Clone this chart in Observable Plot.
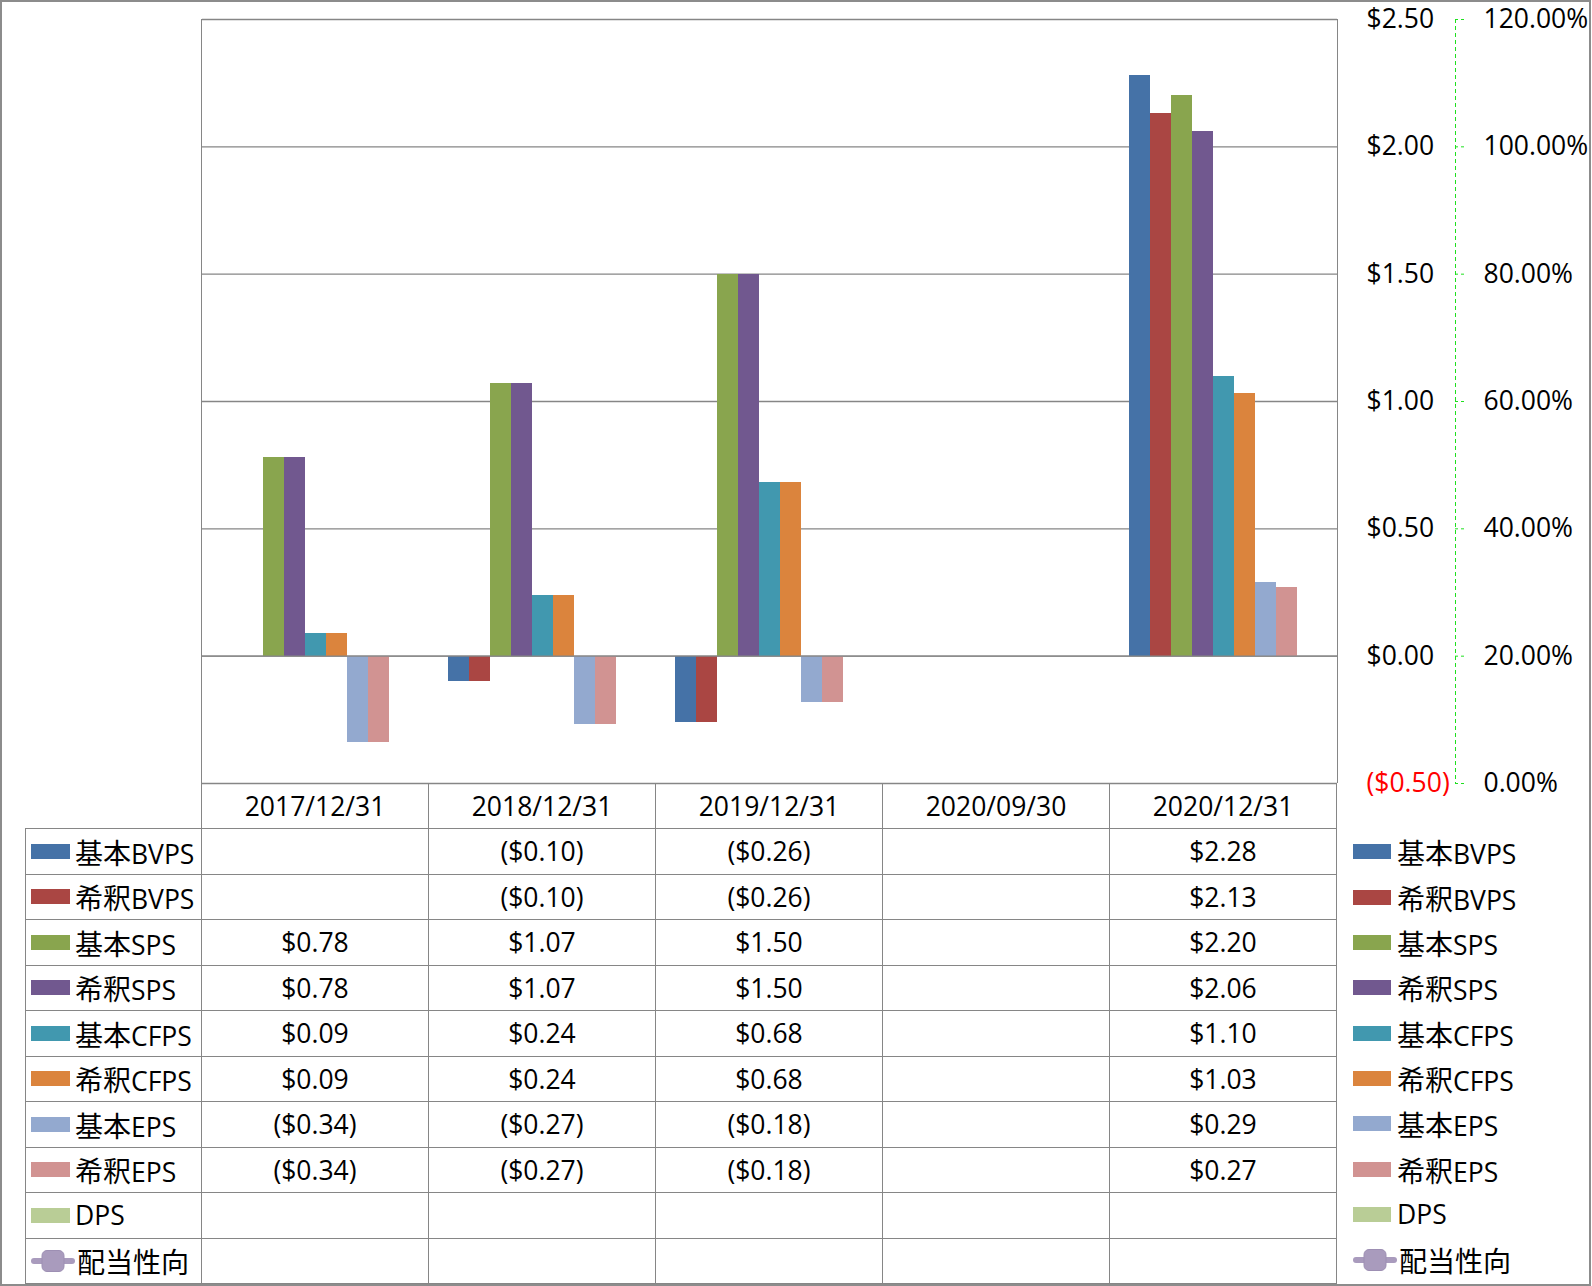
<!DOCTYPE html>
<html>
<head>
<meta charset="utf-8">
<script src="https://cdn.jsdelivr.net/npm/d3@7"></script>
<script src="https://cdn.jsdelivr.net/npm/@observablehq/plot@0.6"></script>
<style>
@font-face {
  font-family: "CJKAdj";
  src: local("Noto Sans CJK JP"), local("NotoSansCJKjp-Regular"), local("Noto Sans CJK JP Regular");
  size-adjust: 106%;
  unicode-range: U+2E80-9FFF, U+F900-FAFF, U+FF00-FFEF;
}
html, body { margin: 0; padding: 0; background: #fff; }
body { font-family: "Open Sans", "CJKAdj", "Noto Sans CJK JP", sans-serif; color: #000; }
#chart { position: relative; width: 1592px; height: 1286px; overflow: hidden; }
#chart > svg { position: absolute; left: 0; top: 0; }
#outline { position: absolute; left: 0; top: 0; width: 1591px; height: 1286px; box-sizing: border-box; border: 2px solid #8c8c8c; pointer-events: none; }
#plotEdges { position: absolute; left: 201px; top: 19px; width: 1137px; height: 764px; box-sizing: border-box; border-left: 1px solid #868686; border-right: 1px solid #868686; }
#table { position: absolute; left: 25px; top: 783px; display: grid;
  grid-template-columns: 177px repeat(5, 227px);
  grid-template-rows: 46px repeat(10, 45.5px); font-size: 26.5px; }
#table > div { box-sizing: border-box; border-right: 1px solid #868686; border-bottom: 1px solid #868686;
  display: flex; align-items: center; justify-content: center; white-space: nowrap; }
#table > div.lg { justify-content: flex-start; border-left: 1px solid #868686; padding-left: 5px; }
#table > div.blank { border-left: none; }
.key { width: 39px; height: 15px; margin-right: 5px; flex: none; }
#legend { position: absolute; left: 1353px; top: 829px; font-size: 26.5px; }
#legend > div { height: 45.35px; display: flex; align-items: center; white-space: nowrap; }
#legend .key { width: 38px; margin-right: 6px; }
</style>
</head>
<body>
<div id="chart"></div>
<script>
// ---------- data ----------
const dates = ["2017/12/31", "2018/12/31", "2019/12/31", "2020/09/30", "2020/12/31"];
const seriesNames = ["基本BVPS", "希釈BVPS", "基本SPS", "希釈SPS", "基本CFPS", "希釈CFPS", "基本EPS", "希釈EPS", "DPS", "配当性向"];
const basicBVPS   = [null, -0.10, -0.26, null, 2.28];
const dilutedBVPS = [null, -0.10, -0.26, null, 2.13];
const basicSPS    = [0.78, 1.07, 1.50, null, 2.20];
const dilutedSPS  = [0.78, 1.07, 1.50, null, 2.06];
const basicCFPS   = [0.09, 0.24, 0.68, null, 1.10];
const dilutedCFPS = [0.09, 0.24, 0.68, null, 1.03];
const basicEPS    = [-0.34, -0.27, -0.18, null, 0.29];
const dilutedEPS  = [-0.34, -0.27, -0.18, null, 0.27];
const dps         = [null, null, null, null, null];
const payoutRatio = [null, null, null, null, null];
const colors = ["#4572A7", "#AA4643", "#89A54E", "#71588F", "#4198AF", "#DB843D", "#93A9CF", "#D19392", "#B9CD96", "#A99BBD"];
const yTicks = [-0.5, 0, 0.5, 1.0, 1.5, 2.0, 2.5];
const pctTicks = [0, 0.2, 0.4, 0.6, 0.8, 1.0, 1.2];

const seriesValues = [basicBVPS, dilutedBVPS, basicSPS, dilutedSPS, basicCFPS, dilutedCFPS, basicEPS, dilutedEPS, dps, payoutRatio];
const barSeries = seriesNames.slice(0, 9);

const rows = barSeries.flatMap((s, si) => dates.map((d, di) => ({date: d, series: s, value: seriesValues[si][di]})))
  .filter(r => r.value != null);
const gridRows = dates.flatMap(d => yTicks.map(t => ({date: d, tick: t})));

const fmtMoney = v => v == null ? "" : (v < 0 ? `($${(-v).toFixed(2)})` : `$${v.toFixed(2)}`);
const fontFamily = `"Open Sans", "CJKAdj", "Noto Sans CJK JP", sans-serif`;
const gridColor = "#868686";
const axisGreen = "#1ee01e";

const chart = document.getElementById("chart");

// ---------- primary plot ----------
const main = Plot.plot({
  width: 1592, height: 783,
  marginLeft: 202, marginRight: 255, marginTop: 19, marginBottom: 0,
  fx: {domain: dates, padding: 0, axis: null},
  x: {domain: barSeries, paddingInner: 0, paddingOuter: 0.75, axis: null},
  y: {domain: [-0.5, 2.5]},
  color: {domain: seriesNames, range: colors},
  style: {fontSize: "26.5px", fontFamily, color: "#000", background: "transparent", overflow: "visible"},
  marks: [
    Plot.ruleY(gridRows, {fx: "date", y: "tick", stroke: gridColor, strokeWidth: 1.3}),
    Plot.barY(rows, {fx: "date", x: "series", y: "value", fill: "series", shapeRendering: "crispEdges"}),
    Plot.ruleY(gridRows.filter(d => d.tick === 0), {fx: "date", y: "tick", stroke: gridColor, strokeWidth: 1.3}),
    Plot.axisY(yTicks, {anchor: "right", tickSize: 0, tickPadding: 29, tickFormat: fmtMoney, fill: "#000"})
  ]
});
main.querySelectorAll("text").forEach(t => { if (t.textContent.trim().startsWith("(")) t.setAttribute("fill", "#ff0000"); });
chart.appendChild(main);

// ---------- secondary axis ----------
const second = Plot.plot({
  width: 1592, height: 783,
  marginLeft: 1455, marginRight: 127, marginTop: 19, marginBottom: 0,
  x: {domain: [0, 1], axis: null},
  y: {domain: [0, 1.2]},
  style: {fontSize: "26.5px", fontFamily, color: "#000", background: "transparent", overflow: "visible"},
  marks: [
    Plot.ruleX([0], {stroke: axisGreen, strokeWidth: 1, strokeDasharray: "4,3"}),
    Plot.tickY(pctTicks, {y: d => d, stroke: axisGreen, strokeWidth: 1, strokeDasharray: "3,3"}),
    Plot.axisY(pctTicks, {anchor: "right", tickSize: 0, tickPadding: 18, tickFormat: d3.format(".2%"), fill: "#000"})
  ]
});
chart.appendChild(second);

// ---------- plot edges ----------
const edges = document.createElement("div");
edges.id = "plotEdges";
chart.appendChild(edges);

// ---------- key helpers ----------
function makeKey(i) {
  if (seriesNames[i] === "配当性向") {
    const ns = "http://www.w3.org/2000/svg";
    const svg = document.createElementNS(ns, "svg");
    svg.setAttribute("width", 44); svg.setAttribute("height", 24);
    svg.style.marginRight = "2px"; svg.style.flex = "none";
    const line = document.createElementNS(ns, "line");
    line.setAttribute("x1", 3); line.setAttribute("x2", 41); line.setAttribute("y1", 12); line.setAttribute("y2", 12);
    line.setAttribute("stroke", colors[i]); line.setAttribute("stroke-width", 6); line.setAttribute("stroke-linecap", "round");
    const rect = document.createElementNS(ns, "rect");
    rect.setAttribute("x", 11); rect.setAttribute("y", 1.5); rect.setAttribute("width", 22); rect.setAttribute("height", 21);
    rect.setAttribute("rx", 5); rect.setAttribute("fill", colors[i]); rect.setAttribute("stroke", "#9d8fb3");
    svg.appendChild(line); svg.appendChild(rect);
    return svg;
  }
  const k = document.createElement("div");
  k.className = "key";
  k.style.background = colors[i];
  return k;
}

// ---------- data table ----------
const table = document.createElement("div");
table.id = "table";
const blank = document.createElement("div");
blank.className = "blank";
table.appendChild(blank);
dates.forEach(d => { const c = document.createElement("div"); c.textContent = d; table.appendChild(c); });
seriesNames.forEach((s, si) => {
  const lg = document.createElement("div");
  lg.className = "lg";
  lg.appendChild(makeKey(si));
  const sp = document.createElement("span"); sp.textContent = s; lg.appendChild(sp);
  table.appendChild(lg);
  dates.forEach((d, di) => { const c = document.createElement("div"); c.textContent = fmtMoney(seriesValues[si][di]); table.appendChild(c); });
});
chart.appendChild(table);

// ---------- right legend ----------
const legend = document.createElement("div");
legend.id = "legend";
seriesNames.forEach((s, si) => {
  const item = document.createElement("div");
  item.appendChild(makeKey(si));
  const sp = document.createElement("span"); sp.textContent = s; item.appendChild(sp);
  legend.appendChild(item);
});
chart.appendChild(legend);

// ---------- outline ----------
const outline = document.createElement("div");
outline.id = "outline";
chart.appendChild(outline);
</script>
</body>
</html>
